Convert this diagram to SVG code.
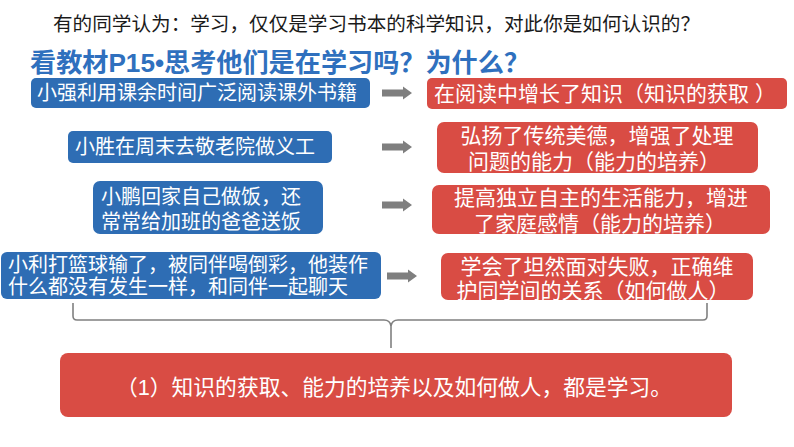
<svg xmlns="http://www.w3.org/2000/svg" width="794" height="447" viewBox="0 0 794 447">
<defs>
<style>
.t{font-family:"Liberation Sans","Noto Sans CJK SC",sans-serif;}
.blue{fill:#2E6DB4;}
.red{fill:#D94C44;}
.bt{font-family:"Liberation Sans","Noto Sans CJK SC",sans-serif;font-size:20px;fill:#fff;text-anchor:middle;}
.bl{text-anchor:start;}
.rt{font-family:"Liberation Sans","Noto Sans CJK SC",sans-serif;font-size:21px;fill:#fff;text-anchor:middle;}
.arr{fill:#7F7F7F;}
</style>
<polygon id="arrow" class="arr" points="0,-3.5 21,-3.5 21,-6.5 30,0 21,6.5 21,3.5 0,3.5"/>
</defs>
<rect width="794" height="447" fill="#fff"/>
<text class="t" x="53" y="31" font-size="19.5" fill="#1a1a1a" textLength="647" lengthAdjust="spacingAndGlyphs">有的同学认为：学习，仅仅是学习书本的科学知识，对此你是如何认识的？</text>
<text class="t" x="30" y="72" font-size="26" font-weight="bold" fill="#2F70BE" textLength="500" lengthAdjust="spacingAndGlyphs">看教材P15•思考他们是在学习吗？为什么？</text>

<g id="b1"><rect class="blue" x="31" y="78" width="339" height="30" rx="5"/><text class="bt" x="197" y="100">小强利用课余时间广泛阅读课外书籍</text></g>
<g id="r1"><rect class="red" x="427" y="78" width="360" height="31" rx="5"/><text class="rt" x="605" y="100.5" xml:space="preserve">在阅读中增长了知识（知识的获取 ）</text></g>

<g id="b2"><rect class="blue" x="68" y="131" width="264" height="32" rx="5"/><text class="bt" x="195" y="154">小胜在周末去敬老院做义工</text></g>
<g id="r2"><rect class="red" x="437" y="122" width="321" height="51" rx="7"/><text class="rt"><tspan x="597" y="142.5">弘扬了传统美德，增强了处理</tspan><tspan x="594" y="168.5">问题的能力（能力的培养）</tspan></text></g>

<g id="b3"><rect class="blue" x="93" y="181" width="230" height="53" rx="7"/><text class="bt"><tspan x="201" y="204">小鹏回家自己做饭，还</tspan><tspan x="201" y="229">常常给加班的爸爸送饭</tspan></text></g>
<g id="r3"><rect class="red" x="432" y="185" width="338" height="49" rx="7"/><text class="rt"><tspan x="601" y="204.5">提高独立自主的生活能力，增进</tspan><tspan x="600" y="230.5">了家庭感情（能力的培养）</tspan></text></g>

<g id="b4"><rect class="blue" x="1" y="252" width="380" height="47" rx="6"/><text class="bt bl"><tspan x="8" y="271.5">小利打篮球输了，被同伴喝倒彩，他装作</tspan><tspan x="8" y="294">什么都没有发生一样，和同伴一起聊天</tspan></text></g>
<g id="r4"><rect class="red" x="441" y="253" width="312" height="47" rx="7"/><text class="rt"><tspan x="597" y="274">学会了坦然面对失败，正确维</tspan><tspan x="593" y="297.5">护同学间的关系（如何做人）</tspan></text></g>

<g id="res"><rect class="red" x="60" y="353" width="672" height="64" rx="8"/><text class="t" x="116" y="395" font-size="21.5" fill="#fff" textLength="556" lengthAdjust="spacingAndGlyphs">（1）知识的获取、能力的培养以及如何做人，都是学习。</text></g>

<g id="connectors">
<use href="#arrow" x="382" y="93"/>
<use href="#arrow" x="382" y="147"/>
<use href="#arrow" x="382" y="205"/>
<use href="#arrow" x="387" y="276"/>
<path d="M73,303 V316 Q73,320 77,320 H384 Q390,320 391,326 V348 M391,348 V326 Q392,320 398,320 H703 Q707,320 707,316 V303" fill="none" stroke="#808080" stroke-width="1.6"/>
</g>
</svg>
